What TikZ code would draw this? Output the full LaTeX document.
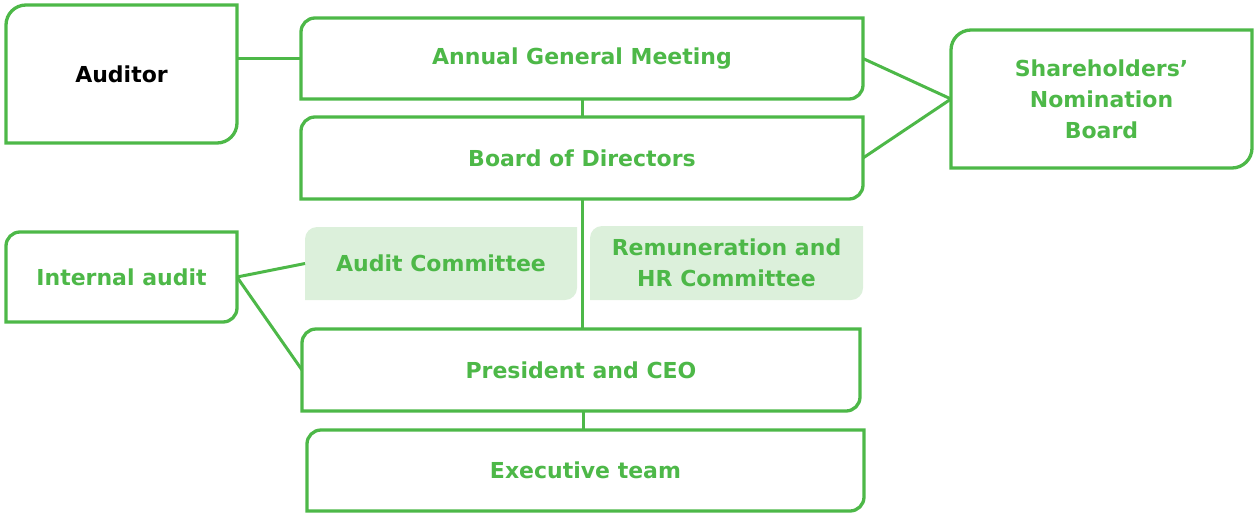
\documentclass[tikz,border=0pt]{standalone}
\usepackage{fontspec}
\setmainfont{DejaVu Sans}
\usetikzlibrary{calc}
\definecolor{gr}{HTML}{4DB848}
\definecolor{lgr}{HTML}{DCF0DB}
\tikzset{
  boxnode/.style={rectangle, inner sep=0pt, outer sep=0pt, align=center,
    font=\fontsize{22}{31}\selectfont\bfseries, text=gr},
  edge/.style={draw=gr, line width=3pt},
  outline/.style={draw=gr, line width=3.3pt},
  panel/.style={fill=lgr, draw=none},
}
% border with top-left and bottom-right rounded corners
\newcommand\tlbrpath[3]{%
  \path[#3] ($(#1.north west)+(#2,0)$) -- (#1.north east) -- ($(#1.south east)+(0,-#2)$)
    arc[start angle=0,end angle=90,radius=#2] -- (#1.south west) -- ($(#1.north west)+(0,#2)$)
    arc[start angle=180,end angle=270,radius=#2] -- cycle;}
\begin{document}
\begin{tikzpicture}[x=1pt,y=-1pt]
\useasboundingbox (0,0) rectangle (1260,520);
% panels (committees)
\node[boxnode, minimum width=272pt, minimum height=73pt] (ac) at (441,263.5) {};
\node[boxnode, minimum width=273pt, minimum height=74pt] (rc) at (726.5,263) {};
\tlbrpath{ac}{12}{panel}
\tlbrpath{rc}{12}{panel}
\node[boxnode] at (ac) {Audit Committee};
\node[boxnode] at (rc) {Remuneration and\\HR Committee};
% main boxes
\node[boxnode, text=black, minimum width=231pt, minimum height=138pt] (aud) at (121.5,74) {Auditor};
\node[boxnode, minimum width=562pt, minimum height=81pt] (agm) at (582,58.5) {Annual General Meeting};
\node[boxnode, minimum width=562pt, minimum height=82pt] (bod) at (582,158) {Board of Directors};
\node[boxnode, minimum width=301pt, minimum height=138pt] (snb) at (1101.5,99) {Shareholders’\\Nomination\\Board};
\node[boxnode, minimum width=231pt, minimum height=90pt] (ia) at (121.5,277) {Internal audit};
\node[boxnode, minimum width=558pt, minimum height=82pt] (ceo) at (581,370) {President and CEO};
\node[boxnode, minimum width=557pt, minimum height=81pt] (ex) at (585.5,470.5) {Executive team};
\tlbrpath{aud}{20}{outline}
\tlbrpath{agm}{14}{outline}
\tlbrpath{bod}{14}{outline}
\tlbrpath{snb}{20}{outline}
\tlbrpath{ia}{14}{outline}
\tlbrpath{ceo}{14}{outline}
\tlbrpath{ex}{14}{outline}
% connectors
\draw[edge] (agm.west) -- (agm.west -| aud.east);
\draw[edge] (agm.south) -- (agm.south |- bod.north);
\draw[edge] (bod.south) -- (bod.south |- ceo.north);
\draw[edge] ([xshift=2pt]ceo.south) -- ([xshift=2pt]ceo.south |- ex.north);
\draw[edge] (agm.east) -- (snb.west);
\draw[edge] (bod.east) -- (snb.west);
\draw[edge] (ia.east) -- (ac.west);
\draw[edge] (ia.east) -- (ceo.west);
\end{tikzpicture}
\end{document}
